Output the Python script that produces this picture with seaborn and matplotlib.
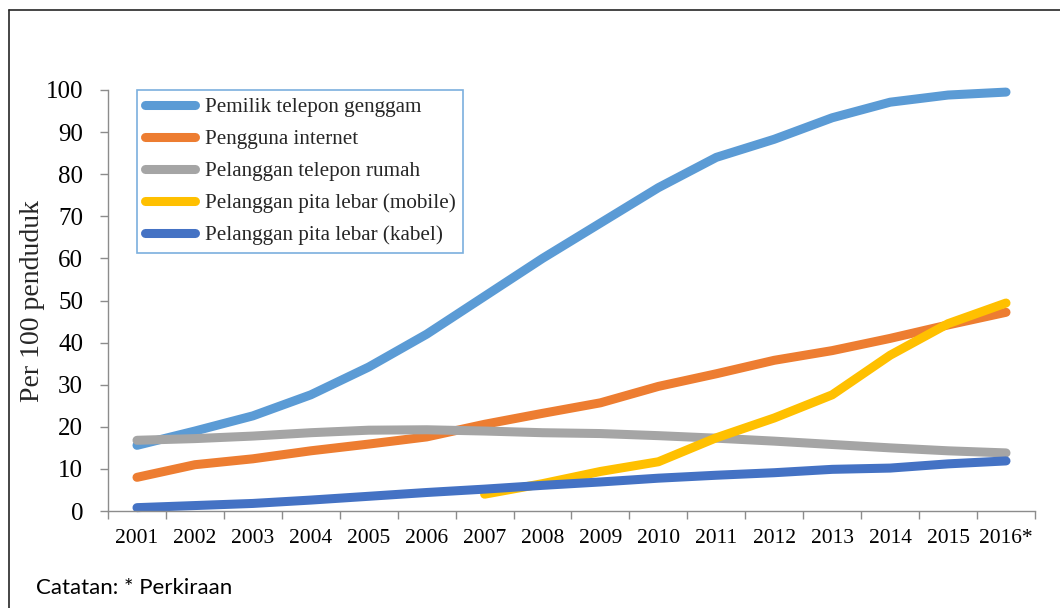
import numpy as np
import pandas as pd
import matplotlib
matplotlib.use("Agg")
import matplotlib.pyplot as plt
from matplotlib.lines import Line2D
import seaborn as sns

years = ["2001", "2002", "2003", "2004", "2005", "2006", "2007", "2008",
         "2009", "2010", "2011", "2012", "2013", "2014", "2015", "2016*"]

pemilik_hp = [15.6, 19.0, 22.6, 27.6, 34.2, 42.0, 51.0, 60.0,
              68.4, 76.8, 84.0, 88.3, 93.4, 97.1, 98.8, 99.5]
pengguna_internet = [8.0, 11.0, 12.4, 14.3, 15.9, 17.6, 20.6, 23.2,
                     25.7, 29.6, 32.6, 35.8, 38.1, 41.0, 44.2, 47.2]
telepon_rumah = [16.8, 17.2, 17.8, 18.6, 19.2, 19.3, 19.0, 18.6,
                 18.4, 17.9, 17.3, 16.6, 15.8, 15.0, 14.3, 13.8]
pita_mobile = [np.nan, np.nan, np.nan, np.nan, np.nan, np.nan, 4.0, 6.5,
               9.4, 11.7, 17.4, 22.1, 27.6, 37.0, 44.5, 49.4]
pita_kabel = [0.8, 1.3, 1.8, 2.6, 3.5, 4.4, 5.2, 6.1,
              6.9, 7.8, 8.5, 9.1, 9.9, 10.2, 11.2, 11.9]

series_names = ["Pemilik telepon genggam", "Pengguna internet",
                "Pelanggan telepon rumah", "Pelanggan pita lebar (mobile)",
                "Pelanggan pita lebar (kabel)"]
series_values = [pemilik_hp, pengguna_internet, telepon_rumah, pita_mobile, pita_kabel]
colors = ["#5B9BD5", "#ED7D31", "#A5A5A5", "#FFC000", "#4472C4"]

rows = []
for name, vals in zip(series_names, series_values):
    for i, v in enumerate(vals):
        if not np.isnan(v):
            rows.append({"pos": i, "value": v, "series": name})
df = pd.DataFrame(rows)

sns.set_theme(style="white")
plt.rcParams["font.family"] = ["Liberation Serif", "DejaVu Serif"]
plt.rcParams["lines.solid_capstyle"] = "round"

fig = plt.figure(figsize=(10.6, 6.08), dpi=100)
ax = fig.add_axes([0.1019, 0.1595, 0.8745, 0.6925])

LW = 6.5
sns.lineplot(data=df, x="pos", y="value", hue="series", hue_order=series_names,
             palette=colors, linewidth=LW, legend=False, ax=ax, clip_on=False)

ax.set_xlim(-0.5, len(years) - 0.5)
ax.set_ylim(0, 100)
ax.set_yticks(np.arange(0, 101, 10))
ax.tick_params(axis="y", labelsize=18, length=6, width=1, color="#8C8C8C",
               direction="out", left=True, pad=12, labelcolor="black")

# category boundaries carry the tick marks, centres carry the labels
ax.set_xticks(np.arange(-0.5, len(years), 1.0))
ax.set_xticklabels([])
ax.set_xticks(np.arange(len(years)), minor=True)
ax.set_xticklabels(years, minor=True)
ax.tick_params(axis="x", which="major", length=6, width=1, color="#8C8C8C",
               direction="out", bottom=True)
ax.tick_params(axis="x", which="minor", length=0, labelsize=15.5, pad=13,
               labelcolor="black")

for side in ["top", "right"]:
    ax.spines[side].set_visible(False)
for side in ["left", "bottom"]:
    ax.spines[side].set_color("#8C8C8C")
    ax.spines[side].set_linewidth(1)
ax.grid(False)
ax.set_xlabel("")
ax.set_ylabel("Per 100 penduduk", fontsize=20)
ax.yaxis.set_label_coords(-0.068, 0.5)

handles = [Line2D([0], [0], color=c, lw=LW, solid_capstyle="round") for c in colors]
leg = ax.legend(handles, series_names, loc="upper left",
                bbox_to_anchor=(0.0312, 1.0), fontsize=15.2, frameon=True,
                fancybox=False, edgecolor="#5B9BD5", handlelength=2.4,
                handletextpad=0.45, labelspacing=0.58, borderpad=0.36,
                borderaxespad=0.0)
leg.get_frame().set_linewidth(1.2)

# outer frame: top and left edges
fig.add_artist(Line2D([9 / 1060, 1.0], [1 - 10 / 608, 1 - 10 / 608],
                      transform=fig.transFigure, color="#262626", lw=1.2))
fig.add_artist(Line2D([9 / 1060, 9 / 1060], [0.0, 1 - 10 / 608],
                      transform=fig.transFigure, color="#262626", lw=1.2))

fig.text(36 / 1060, 1 - 588 / 608, "Catatan: * Perkiraan", fontsize=16,
         family=["Lato", "DejaVu Sans"], va="center", ha="left", color="black")

fig.savefig("out.png", dpi=100, facecolor="white")
